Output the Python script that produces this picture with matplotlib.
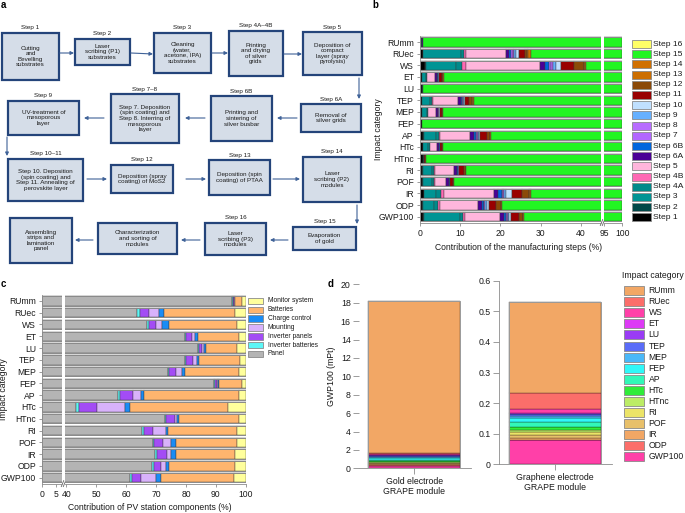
import matplotlib
matplotlib.use('Agg')
import matplotlib.pyplot as plt
from matplotlib.patches import Rectangle
import numpy as np

plt.rcParams['font.family'] = ['Liberation Sans', 'DejaVu Sans']

W, H = 685, 513

# ---------------- data ----------------
categories = ['RUmm', 'RUec', 'WS', 'ET', 'LU', 'TEP', 'MEP', 'FEP', 'AP',
              'HTc', 'HTnc', 'RI', 'POF', 'IR', 'ODP', 'GWP100']

# panel b: contribution of manufacturing steps (%)
step_names = ['Step 1', 'Step 2', 'Step 3', 'Step 4A', 'Step 4B', 'Step 5', 'Step 6A',
              'Step 6B', 'Step 7', 'Step 8', 'Step 9', 'Step 10', 'Step 11', 'Step 12',
              'Step 13', 'Step 14', 'Step 15', 'Step 16']
step_colors = ['#000000', '#004848', '#009494', '#008a8a', '#ff69b4', '#ffb6dc', '#4b0096',
               '#0066dd', '#b266ff', '#b86cff', '#66b0ff', '#c0e0ff', '#990000', '#8b4a08',
               '#cc6e00', '#d07000', '#22f522', '#ffff66']
step1 = [0.2, 0.6, 1.2, 0.4, 0.5, 0.4, 0.4, 0.4, 0.7, 0.6, 0.7, 0.5, 0.5, 0.9, 0.5, 0.7]
step2 = [0.1, 0.1, 0.1, 0.1, 0.1, 0.1, 0.1, 0.1, 0.1, 0.1, 0.1, 0.1, 0.1, 0.1, 0.1, 0.1]
step3 = [0.1, 9.5, 7.7, 0.9, 0.0, 1.9, 1.1, 0.0, 3.1, 1.2, 0.0, 2.2, 2.2, 3.0, 2.9, 9.0]
step4a = [0.0, 0.8, 1.4, 0.2, 0.0, 0.5, 0.3, 0.0, 0.7, 0.5, 0.0, 0.6, 0.6, 1.1, 1.0, 0.8]
step4b = [0.0, 0.3, 0.9, 0.1, 0.0, 0.3, 0.1, 0.0, 0.3, 0.1, 0.0, 0.3, 0.2, 0.7, 0.4, 0.6]
step5 = [0.0, 10.0, 18.6, 2.0, 0.0, 6.1, 1.9, 0.0, 7.5, 1.7, 0.0, 4.8, 2.8, 12.5, 9.6, 8.7]
step6a = [0.3, 0.8, 1.1, 0.5, 0.1, 0.9, 0.5, 0.0, 1.1, 0.5, 0.2, 0.7, 0.7, 1.2, 0.9, 1.0]
step6b = [0.0, 0.6, 1.0, 0.1, 0.0, 0.2, 0.1, 0.0, 0.5, 0.1, 0.0, 0.3, 0.2, 0.8, 0.4, 0.5]
step7 = [0.0, 0.3, 0.5, 0.1, 0.0, 0.15, 0.1, 0.0, 0.2, 0.0, 0.0, 0.1, 0.1, 0.3, 0.2, 0.2]
step8 = [0.0, 0.3, 0.5, 0.1, 0.0, 0.15, 0.0, 0.0, 0.2, 0.0, 0.0, 0.1, 0.1, 0.3, 0.2, 0.2]
step9 = [0.0, 0.5, 0.8, 0.1, 0.0, 0.2, 0.1, 0.0, 0.2, 0.0, 0.0, 0.0, 0.0, 0.6, 0.4, 0.3]
step10 = [0.0, 0.8, 1.2, 0.1, 0.0, 0.3, 0.1, 0.0, 0.2, 0.0, 0.0, 0.0, 0.0, 1.4, 0.5, 0.5]
step11 = [0.0, 1.6, 3.3, 0.6, 0.0, 1.0, 0.7, 0.0, 1.8, 0.5, 0.2, 1.3, 0.6, 2.4, 1.8, 1.9]
step12 = [0.0, 0.5, 2.6, 0.3, 0.0, 0.8, 0.2, 0.0, 0.8, 0.3, 0.1, 0.4, 0.3, 1.9, 1.3, 1.1]
step13 = [0.0, 0.2, 0.2, 0.0, 0.0, 0.1, 0.0, 0.0, 0.1, 0.0, 0.0, 0.0, 0.0, 0.1, 0.1, 0.1]
step14 = [0.0, 0.6, 0.2, 0.2, 0.0, 0.2, 0.0, 0.0, 0.1, 0.0, 0.0, 0.1, 0.0, 0.2, 0.1, 0.1]
step15 = [99.3, 72.5, 58.7, 94.2, 99.3, 86.7, 94.3, 99.5, 82.4, 94.4, 98.7, 88.5, 91.6, 72.5, 79.6, 74.2]
step16 = [0.0] * 16
steps = [step1, step2, step3, step4a, step4b, step5, step6a, step6b, step7, step8,
         step9, step10, step11, step12, step13, step14, step15, step16]

# panel c: contribution of PV station components (%)
comp_names = ['Panel', 'Inverter batteries', 'Inverter panels', 'Mounting',
              'Charge control', 'Batteries', 'Monitor system']
comp_colors = ['#b4b4b4', '#5cf6f6', '#a34cf5', '#d8b2fb', '#1a8cf5', '#ffb56e', '#ffff9c']
panel = [95.5, 63.7, 67.1, 79.6, 83.9, 79.7, 73.9, 89.5, 57.3, 43.1, 73.0, 65.2, 68.8, 69.7, 68.6, 61.1]
inv_batteries = [0.2, 0.9, 0.6, 0.4, 0.3, 0.4, 0.5, 0.2, 0.7, 1.0, 0.4, 0.6, 0.6, 0.7, 0.7, 0.9]
inv_panels = [0.5, 3.0, 2.3, 2.1, 1.2, 2.2, 2.3, 0.8, 4.2, 6.1, 3.0, 3.1, 3.0, 3.2, 2.3, 2.9]
mounting = [0.1, 3.5, 1.9, 1.0, 0.7, 1.3, 2.0, 0.2, 2.8, 9.4, 0.5, 4.3, 2.6, 1.4, 1.6, 5.1]
charge_control = [0.1, 1.5, 2.5, 0.8, 0.6, 0.9, 0.9, 0.4, 0.8, 1.5, 0.8, 0.9, 1.5, 1.6, 1.0, 1.7]
batteries = [2.4, 23.9, 22.8, 13.8, 10.5, 13.6, 18.3, 7.7, 31.9, 33.1, 20.2, 23.1, 20.7, 19.9, 22.3, 24.5]
monitor = [1.2, 3.5, 2.8, 2.3, 2.8, 1.9, 2.1, 1.2, 2.3, 5.8, 2.1, 2.8, 2.8, 3.5, 3.5, 3.8]
components = [panel, inv_batteries, inv_panels, mounting, charge_control, batteries, monitor]

# panel d: single score per impact category (legend order, RUmm first)
d_colors = ['#f2a765', '#fb6e6a', '#ff40a8', '#dd3af5', '#9a3cf5', '#5a6cf8', '#4ab8f8',
            '#30f8f8', '#32f8b8', '#30ec3a', '#bcec66', '#ece468', '#e8c06a', '#f2a765',
            '#fb6e6a', '#ff40a8']
gold_module = [16.5, 0.15, 0.08, 0.05, 0.05, 0.1, 0.12, 0.25, 0.12, 0.1, 0.05, 0.08,
               0.08, 0.1, 0.05, 0.3]
graphene_module = [0.298, 0.052, 0.012, 0.003, 0.003, 0.005, 0.006, 0.013, 0.016, 0.010,
                   0.009, 0.009, 0.010, 0.004, 0.003, 0.078]
d_ticklabels = ['Gold electrode\nGRAPE module', 'Graphene electrode\nGRAPE module']

# flowchart of panel a: (x0, y0, x1, y1, title, text)
flow_boxes = [
    (2, 33, 59, 80, 'Step 1', 'Cutting\nand\nBevelling\nsubstrates'),
    (75, 39, 130, 65, 'Step 2', 'Laser\nscribing (P1)\nsubstrates'),
    (154, 33, 211, 73, 'Step 3', 'Cleaning\n(water,\nacetone, IPA)\nsubstrates'),
    (229, 31, 283, 76, 'Step 4A–4B', 'Printing\nand drying\nof silver\ngrids'),
    (303, 32, 362, 75, 'Step 5', 'Deposition of\ncompact\nlayer (spray\npyrolysis)'),
    (301, 104, 361, 132, 'Step 6A', 'Removal of\nsilver grids'),
    (211, 96, 272, 141, 'Step 6B', 'Printing and\nsintering of\nsilver busbar'),
    (111, 94, 179, 143, 'Step 7–8', 'Step 7. Deposition\n(spin coating) and\nStep 8. Interring of\nmesoporous\nlayer'),
    (8, 101, 79, 135, 'Step 9', 'UV-treatment of\nmesoporous\nlayer'),
    (8, 159, 83, 201, 'Step 10–11', 'Step 10. Deposition\n(spin coating) and\nStep 11. Annealing of\nperovskite layer'),
    (111, 165, 173, 193, 'Step 12', 'Deposition (spray\ncoating) of MoS2'),
    (209, 160, 270, 195, 'Step 13', 'Deposition (spin\ncoating) of PTAA'),
    (303, 157, 361, 202, 'Step 14', 'Laser\nscribing (P2)\nmodules'),
    (293, 227, 356, 250, 'Step 15', 'Evaporation\nof gold'),
    (205, 223, 266, 255, 'Step 16', 'Laser\nscribing (P3)\nmodules'),
    (98, 223, 177, 254, '', 'Characterization\nand sorting of\nmodules'),
    (10, 218, 72, 263, '', 'Assembling\nstrips and\nlamination\npanel'),
]
flow_arrows = [
    ((60, 53), (74, 53)), ((131, 53), (153, 54)), ((212, 53), (228, 53)), ((284, 54), (302, 54)),
    ((359, 78), (359, 99)),
    ((297, 118), (277, 118)), ((205, 118), (185, 118)), ((104, 118), (84, 118)),
    ((7, 137), (7, 156)),
    ((87, 179), (107, 179)), ((186, 179), (206, 179)), ((273, 179), (300, 179)),
    ((357, 205), (357, 224)),
    ((288, 240), (270, 240)), ((200, 240), (181, 240)), ((93, 240), (75, 240)),
]

# ---------------- figure ----------------
fig = plt.figure(figsize=(W / 100, H / 100), dpi=100)

over = fig.add_axes([0, 0, 1, 1])
over.set_xlim(0, W)
over.set_ylim(H, 0)
over.axis('off')


def px_axes(x0, y0, x1, y1):
    return fig.add_axes([x0 / W, 1 - y1 / H, (x1 - x0) / W, (y1 - y0) / H])


SPINE = '#8c8c8c'
TXT = '#1a1a1a'


def style(ax, left=True, fs=6.2):
    for s in ['top', 'right']:
        ax.spines[s].set_visible(False)
    ax.spines['left'].set_visible(left)
    for s in ['left', 'bottom']:
        ax.spines[s].set_color(SPINE)
        ax.spines[s].set_linewidth(0.6)
    ax.tick_params(colors=SPINE, labelcolor=TXT, labelsize=fs, length=2.5, width=0.6, pad=2)
    ax.set_facecolor('none')


# ---- panel a: flowchart ----
for x0, y0, x1, y1, title, text in flow_boxes:
    over.add_patch(Rectangle((x0, y0), x1 - x0, y1 - y0, facecolor='#d5dde8',
                             edgecolor='#24447a', linewidth=1.6))
    over.text((x0 + x1) / 2, (y0 + y1) / 2, text, ha='center', va='center',
              fontsize=4.5, color=TXT, linespacing=1.15)
    if title:
        over.text((x0 + x1) / 2, y0 - 5, title, ha='center', va='center',
                  fontsize=4.5, color=TXT)
for p0, p1 in flow_arrows:
    over.annotate('', xy=p1, xytext=p0,
                  arrowprops=dict(arrowstyle='-|>', color='#3f6298', lw=0.8,
                                  mutation_scale=5, shrinkA=0, shrinkB=0))

# ---- panel b ----
y = np.arange(len(categories))
total_b = np.sum(steps, axis=0)
axb1 = px_axes(420.3, 36.2, 600.7, 222.5)
axb2 = px_axes(604.3, 36.2, 622.3, 222.5)
for ax in (axb1, axb2):
    left = np.zeros(len(categories))
    for vals, col in zip(steps, step_colors):
        vals = np.array(vals)
        ax.barh(y, vals, left=left, height=0.8, color=col,
                edgecolor='#3a3a3a', linewidth=np.where(vals > 0, 0.3, 0))
        left += vals
    ax.barh(y, total_b, height=0.8, facecolor='none', edgecolor='#8a8a8a', linewidth=0.7)
    ax.set_ylim(15.5, -0.5)
axb1.set_xlim(0, 45)
axb1.set_xticks([0, 10, 20, 30, 40])
axb1.set_yticks(y)
axb1.set_yticklabels(categories)
style(axb1)
axb2.set_xlim(95, 100)
axb2.set_xticks([95, 100])
axb2.set_yticks([])
style(axb2, left=False)
fig.text(518.7 / W, 1 - 248 / H, 'Contribution of the manufacturing steps (%)',
         ha='center', va='center', fontsize=6.2, color=TXT)
fig.text(379 / W, 1 - 129 / H, 'Impact category', rotation=90,
         ha='center', va='center', fontsize=6.2, color=TXT)

# legend b
for i, (name, col) in enumerate(zip(step_names[::-1], step_colors[::-1])):
    yc = 44 + i * 10.2
    over.add_patch(Rectangle((632.3, yc - 4), 18.4, 8, facecolor=col,
                             edgecolor='#8a8a8a', linewidth=0.6))
    over.text(653.3, yc, name, ha='left', va='center', fontsize=6.1, color=TXT)

# ---- panel c ----
total_c = np.sum(components, axis=0)
axc1 = px_axes(42.3, 295, 61.7, 483.6)
axc2 = px_axes(65, 295, 245.7, 483.6)
for ax in (axc1, axc2):
    left = np.zeros(len(categories))
    for vals, col in zip(components, comp_colors):
        vals = np.array(vals)
        ax.barh(y, vals, left=left, height=0.8, color=col,
                edgecolor='#3a3a3a', linewidth=np.where(vals > 0, 0.3, 0))
        left += vals
    ax.barh(y, total_c, height=0.8, facecolor='none', edgecolor='#8a8a8a', linewidth=0.7)
    ax.set_ylim(15.5, -0.5)
axc1.set_xlim(0, 7.2)
axc1.set_xticks([0, 5])
axc1.set_yticks(y)
axc1.set_yticklabels(categories)
style(axc1)
axc2.set_xlim(39.5, 100)
axc2.set_xticks([40, 50, 60, 70, 80, 90, 100])
axc2.set_yticks([])
style(axc2, left=False)
fig.text(150 / W, 1 - 508 / H, 'Contribution of PV station components (%)',
         ha='center', va='center', fontsize=6.2, color=TXT)
fig.text(4 / W, 1 - 389 / H, 'Impact category', rotation=90,
         ha='center', va='center', fontsize=6.2, color=TXT)

# legend c
for i, (name, col) in enumerate(zip(comp_names[::-1], comp_colors[::-1])):
    yc = 301 + i * 8.83
    over.add_patch(Rectangle((248, yc - 3.3), 15, 6.6, facecolor=col,
                             edgecolor='#8a8a8a', linewidth=0.6))
    over.text(268, yc, name, ha='left', va='center', fontsize=4.8, color=TXT)

# break marks
for xb, yb in [(601.5, 222.5), (603.5, 222.5), (62.5, 483.6), (64.5, 483.6)]:
    over.plot([xb - 1.2, xb + 1.2], [yb + 3, yb - 3], color='#666666', lw=0.6)

# ---- panel d ----
axd1 = px_axes(359, 284.3, 471, 468.3)
axd2 = px_axes(499.3, 280.7, 611.7, 464.3)
for ax, vals_d, lab in ((axd1, gold_module, d_ticklabels[0]),
                        (axd2, graphene_module, d_ticklabels[1])):
    bottom = 0.0
    for v, col in zip(vals_d[::-1], d_colors[::-1]):
        ax.bar([0], [v], bottom=bottom, width=1.0, color=col,
               edgecolor=(0, 0, 0, 0.65), linewidth=0.3)
        bottom += v
    ax.bar([0], [bottom], width=1.0, facecolor='none', edgecolor='#9a9a9a', linewidth=0.7)
    ax.set_xlim(-0.6, 0.62)
    ax.set_xticks([0])
    ax.set_xticklabels([lab])
    style(ax, fs=6.3)
    ax.tick_params(length=4)
axd1.set_ylim(0, 20)
axd1.set_yticks(np.arange(0, 21, 2))
axd1.spines['left'].set_visible(False)
axd1.set_ylabel('GWP100 (mPt)', fontsize=6.3, color=TXT, labelpad=3)
axd2.set_ylim(0, 0.6)
axd2.set_yticks([0, 0.1, 0.2, 0.3, 0.4, 0.5, 0.6])
axd2.set_yticklabels(['0', '0.1', '0.2', '0.3', '0.4', '0.5', '0.6'])

# legend d
over.text(621.7, 275, 'Impact category', ha='left', va='center', fontsize=6.2, color=TXT)
for i, (name, col) in enumerate(zip(categories, d_colors)):
    yc = 290.7 + i * 11.07
    over.add_patch(Rectangle((624.3, yc - 4.5), 19.7, 9, facecolor=col,
                             edgecolor='#8a8a8a', linewidth=0.6))
    over.text(648.7, yc, name, ha='left', va='center', fontsize=6.2, color=TXT)

# panel letters
for lx, ly, letter in [(3.5, 5, 'a'), (375, 5, 'b'), (3.5, 284, 'c'), (331, 284, 'd')]:
    over.text(lx, ly, letter, ha='center', va='center', fontsize=7, fontweight='bold', color='black')

fig.savefig('out.png', dpi=100)
